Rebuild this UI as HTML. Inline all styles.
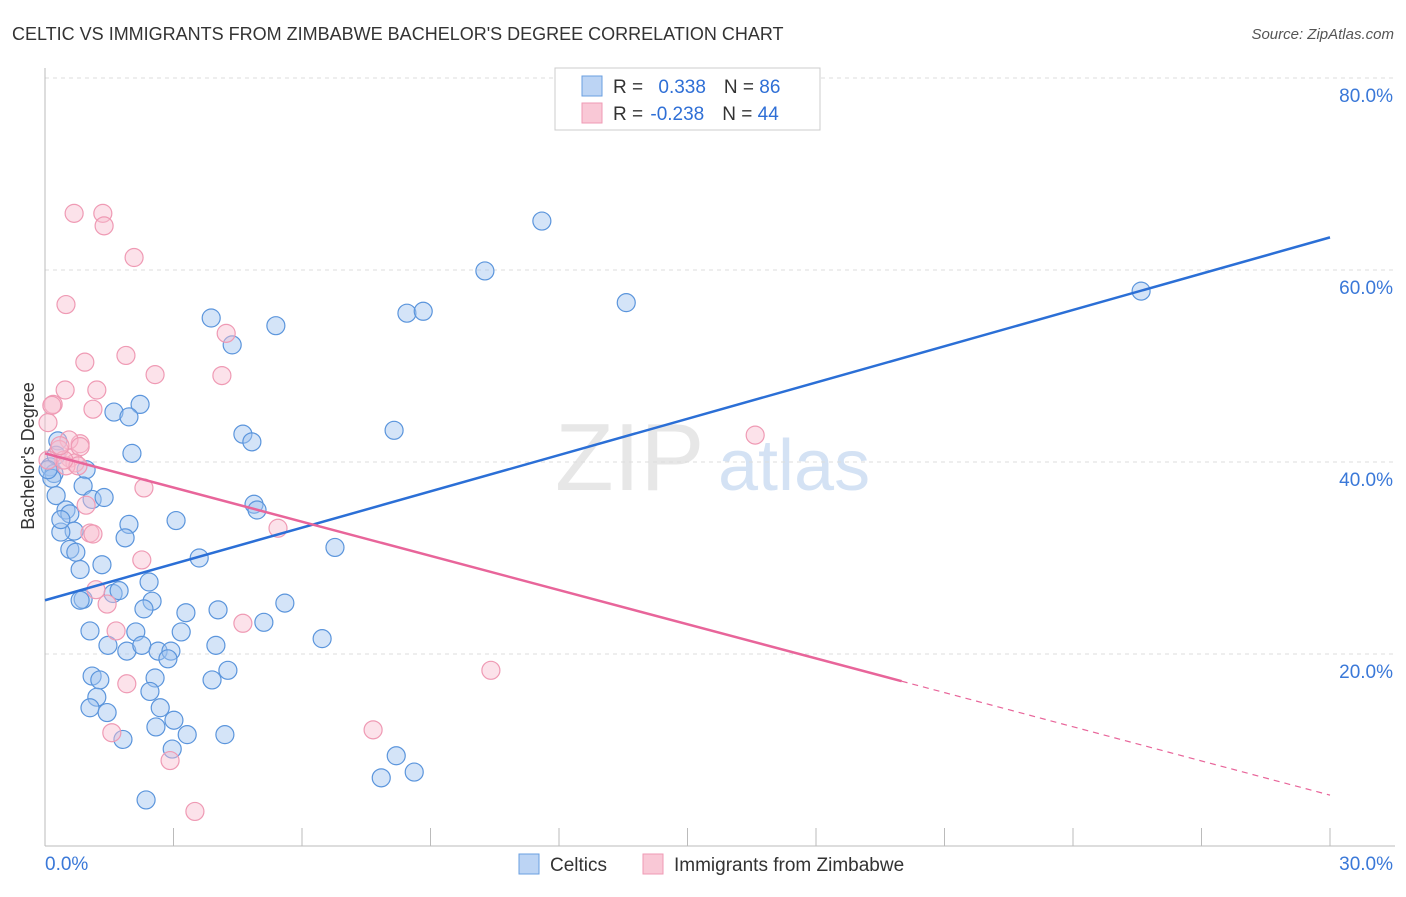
<!DOCTYPE html>
<html><head><meta charset="utf-8"><style>
body{margin:0;background:#fff;font-family:"Liberation Sans",sans-serif;}
svg text{font-family:"Liberation Sans",sans-serif;}
</style></head><body>
<svg id="chart" width="1406" height="892" viewBox="0 0 1406 892" xmlns="http://www.w3.org/2000/svg">
<rect width="1406" height="892" fill="#fff"/>
<text x="12" y="40" font-size="18" fill="#333">CELTIC VS IMMIGRANTS FROM ZIMBABWE BACHELOR'S DEGREE CORRELATION CHART</text>
<text x="1394" y="39" font-size="15" fill="#555" font-style="italic" text-anchor="end">Source: ZipAtlas.com</text>
<g>
<text x="555" y="490" font-size="96" fill="#d8d8d8" font-family="Liberation Serif" opacity="0.6">ZIP</text>
<text x="718" y="490" font-size="72" fill="#b8d0ee" opacity="0.6">atlas</text>
</g>
<g id="grid"></g>
<g id="axes"></g>
<g id="points"></g>
<g id="trends"></g>
<text transform="translate(34,456) rotate(-90)" font-size="18" fill="#333" text-anchor="middle">Bachelor's Degree</text>
<g>
<rect x="555" y="68" width="265" height="62" fill="#fff" stroke="#ccc"/>
<rect x="582" y="76" width="20" height="20" fill="#bcd4f4" stroke="#6a9fe0"/>
<rect x="582" y="103" width="20" height="20" fill="#f9c8d6" stroke="#ef9ab4"/>
<text x="613" y="93" font-size="19" fill="#333">R = <tspan fill="#2f6fd6" dx="10">0.338</tspan><tspan dx="18" fill="#333">N = </tspan><tspan fill="#2f6fd6">86</tspan></text>
<text x="613" y="120" font-size="19" fill="#333">R = <tspan fill="#2f6fd6" dx="2">-0.238</tspan><tspan dx="18" fill="#333">N = </tspan><tspan fill="#2f6fd6">44</tspan></text>
</g>
<g>
<rect x="519" y="854" width="20" height="20" fill="#bcd4f4" stroke="#6a9fe0"/>
<text x="550" y="871" font-size="19" fill="#333">Celtics</text>
<rect x="643" y="854" width="20" height="20" fill="#f9c8d6" stroke="#ef9ab4"/>
<text x="674" y="871" font-size="19" fill="#333">Immigrants from Zimbabwe</text>
</g>
</svg>
<script>
const blueX=[11.6,10.27,25.59,13.57,3.88,8.45,8.83,5.39,4.37,2.22,1.61,1.96,8.15,4.62,4.83,2.03,0.30,0.96,0.12,0.21,0.16,0.89,0.26,1.10,1.38,4.88,4.95,0.49,0.58,0.68,1.96,0.37,3.06,1.87,6.77,0.58,0.72,3.60,1.33,0.82,2.43,1.59,1.73,0.89,2.50,2.31,3.29,4.04,5.11,5.60,6.47,1.05,2.12,3.18,1.47,3.99,1.91,2.26,2.64,2.94,2.87,1.10,1.28,2.57,4.27,3.90,1.21,2.45,1.05,1.45,2.69,3.01,2.59,3.32,4.20,1.82,2.97,8.20,7.85,8.62,2.36,0.26,0.07,0.82,0.37];
const blueY=[65.1,59.9,57.8,56.6,55.0,55.5,55.7,54.2,52.2,46.0,45.2,44.7,43.3,42.9,42.1,40.9,42.2,39.2,39.5,38.8,38.3,37.5,36.5,36.1,36.3,35.6,35.0,35.0,34.6,32.8,33.5,32.7,33.9,32.1,31.1,30.9,30.6,30.0,29.3,28.8,27.5,26.3,26.6,25.7,25.5,24.7,24.3,24.6,23.3,25.3,21.6,22.4,22.3,22.3,20.9,20.9,20.3,20.9,20.3,20.3,19.5,17.7,17.3,17.5,18.3,17.3,15.5,16.1,14.4,13.9,14.4,13.1,12.4,11.6,11.6,11.1,10.1,9.4,7.1,7.7,4.8,40.7,39.2,25.6,34.0];
const pinkX=[0.68,1.35,1.38,2.08,0.49,4.23,0.93,1.89,2.57,4.13,0.47,1.21,0.19,0.07,1.12,0.82,0.56,0.33,0.58,0.70,0.82,0.49,0.77,2.31,0.96,1.05,1.12,5.44,2.26,1.19,1.45,1.66,4.62,1.91,1.56,7.66,2.92,3.50,10.41,16.58,0.44,0.16,0.35,0.07];
const pinkY=[65.9,65.9,64.6,61.3,56.4,53.4,50.4,51.1,49.1,49.0,47.5,47.5,46.0,44.1,45.5,41.9,42.3,41.3,40.4,39.9,41.6,39.6,39.6,37.3,35.5,32.6,32.5,33.1,29.8,26.7,25.2,22.4,23.2,16.9,11.8,12.1,8.9,3.6,18.3,42.8,40.2,45.9,41.7,40.2];
const yTicks=[20,40,60,80];
const yTickLabels=["20.0%","40.0%","60.0%","80.0%"];
const xTicks=[0,3,6,9,12,15,18,21,24,27,30];
const blueTrend=[25.6,63.4];
const pinkTrend=[40.9,5.3];
const pinkSolidEnd=20;

const NS="http://www.w3.org/2000/svg";
const X0=45,X1=1330,Y0=846,YPX=9.6;
const sx=v=>X0+(X1-X0)*v/30;
const sy=v=>Y0-v*YPX;
function mk(tag,attrs,parent){const e=document.createElementNS(NS,tag);for(const k in attrs)e.setAttribute(k,attrs[k]);parent.appendChild(e);return e;}
const grid=document.getElementById('grid'),axes=document.getElementById('axes'),pts=document.getElementById('points'),tr=document.getElementById('trends');
yTicks.forEach((t,i)=>{
  const l=mk('line',{x1:X0,x2:1395,y1:sy(t),y2:sy(t),stroke:'#ddd','stroke-dasharray':'4,4'},grid);
  
  
  const tx=mk('text',{x:1393,y:sy(t)+24,'font-size':19,fill:'#3a78d8','text-anchor':'end'},axes);
  tx.textContent=yTickLabels[i];
  
  
});
const la=mk('line',{x1:X0,x2:X0,y1:68,y2:Y0,stroke:'#bbb'},axes);


const ba=mk('line',{x1:X0,x2:1395,y1:Y0,y2:Y0,stroke:'#bbb'},axes);


xTicks.forEach(t=>{
  const l=mk('line',{x1:sx(t),x2:sx(t),y1:828,y2:Y0,stroke:'#bbb'},axes);
  
  
});
const xl0=mk('text',{x:45,y:870,'font-size':19,fill:'#3a78d8'},axes);xl0.textContent="0.0%";


const xl1=mk('text',{x:1393,y:870,'font-size':19,fill:'#3a78d8','text-anchor':'end'},axes);xl1.textContent="30.0%";


blueX.forEach((v,i)=>{
  const c=mk('circle',{cx:sx(v),cy:sy(blueY[i]),r:9,fill:'rgba(160,196,240,0.45)',stroke:'#5b95dc','stroke-width':1.2},pts);
  
  
});
pinkX.forEach((v,i)=>{
  const c=mk('circle',{cx:sx(v),cy:sy(pinkY[i]),r:9,fill:'rgba(248,190,208,0.45)',stroke:'#ef9ab4','stroke-width':1.2},pts);
  
  
});
const bl=mk('line',{x1:sx(0),y1:sy(blueTrend[0]),x2:sx(30),y2:sy(blueTrend[1]),stroke:'#2b6fd6','stroke-width':2.5},tr);


const pAt=x=>pinkTrend[0]+(pinkTrend[1]-pinkTrend[0])*x/30;
const pl=mk('line',{x1:sx(0),y1:sy(pinkTrend[0]),x2:sx(pinkSolidEnd),y2:sy(pAt(pinkSolidEnd)),stroke:'#e8659a','stroke-width':2.5},tr);


const pd=mk('line',{x1:sx(pinkSolidEnd),y1:sy(pAt(pinkSolidEnd)),x2:sx(30),y2:sy(pinkTrend[1]),stroke:'#e8659a','stroke-width':1.2,'stroke-dasharray':'6,5'},tr);


</script>
</body></html>
